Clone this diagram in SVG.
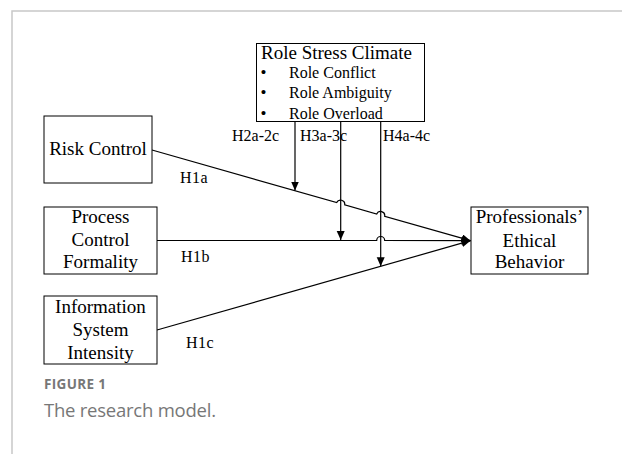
<svg xmlns="http://www.w3.org/2000/svg" width="622" height="454" viewBox="0 0 622 454">
<style>
.box{fill:#fff;stroke:#000;stroke-width:1}
.t{font-family:"Liberation Serif","Times New Roman",serif;font-size:19px;fill:#000}
.s{font-family:"Liberation Serif","Times New Roman",serif;font-size:16px;fill:#000}
.b{font-family:"Liberation Serif","Times New Roman",serif;font-size:17px;fill:#000}
.ln{fill:none;stroke:#000;stroke-width:1.2}
.cap{font-family:"Open Sans","Liberation Sans",sans-serif;fill:#777}
</style>
<defs>
<marker id="ah" markerUnits="userSpaceOnUse" markerWidth="10" markerHeight="10" refX="9" refY="4" orient="auto">
<path d="M0,0 L9,4 L0,8 z" fill="#000"/>
</marker>
</defs>
<rect width="622" height="454" fill="#fff"/>
<g id="frame">
<path d="M12,454 V11 H622" fill="none" stroke="#c8c8c8" stroke-width="1.5"/>
</g>
<g id="connectors">
<path class="ln" d="M152,150 L336.7,202.6 A4.2,4.2 0 0 1 344.7,204.9 L376.7,214 A4.2,4.2 0 0 1 384.7,216.3 L470.5,240.7" marker-end="url(#ah)"/>
<path class="ln" d="M157,240.5 L376.7,240.5 A4,4 0 0 1 384.7,240.5 L470.5,240.7" marker-end="url(#ah)"/>
<path class="ln" d="M157,330 L470.5,240.7" marker-end="url(#ah)"/>
<path class="ln" d="M295,122 V190.5" marker-end="url(#ah)"/>
<path class="ln" d="M340.7,122 V240" marker-end="url(#ah)"/>
<path class="ln" d="M380.7,122 V266.3" stroke="#808080" marker-end="url(#ah)"/>
</g>
<g id="role-stress">
<rect class="box" x="256.5" y="43.5" width="168" height="78"/>
<text class="t" x="261" y="58.5">Role Stress Climate</text>
<text class="b" x="260.5" y="78">•</text>
<text class="s" x="289" y="77.5">Role Conflict</text>
<text class="b" x="260.5" y="98">•</text>
<text class="s" x="289" y="97.5">Role Ambiguity</text>
<text class="b" x="260.5" y="119">•</text>
<text class="s" x="289" y="118.5">Role Overload</text>
</g>
<g id="risk-control">
<rect class="box" x="44" y="116" width="108" height="67"/>
<text class="t" x="98" y="155" text-anchor="middle">Risk Control</text>
</g>
<g id="process-control">
<rect class="box" x="44" y="207" width="113" height="67"/>
<text class="t" x="100.5" y="223" text-anchor="middle">Process</text>
<text class="t" x="100.5" y="245.5" text-anchor="middle">Control</text>
<text class="t" x="100.5" y="268" text-anchor="middle">Formality</text>
</g>
<g id="info-system">
<rect class="box" x="44" y="296" width="113" height="68"/>
<text class="t" x="100.5" y="313" text-anchor="middle">Information</text>
<text class="t" x="100.5" y="336" text-anchor="middle">System</text>
<text class="t" x="100.5" y="359" text-anchor="middle">Intensity</text>
</g>
<g id="ethical-behavior">
<rect class="box" x="471" y="207" width="117" height="67"/>
<text class="t" x="529.5" y="223" text-anchor="middle">Professionals’</text>
<text class="t" x="529.5" y="246.5" text-anchor="middle">Ethical</text>
<text class="t" x="529.5" y="268" text-anchor="middle">Behavior</text>
</g>
<g id="labels">
<text class="s" x="232" y="140.5">H2a-2c</text>
<text class="s" x="300" y="140.5">H3a-3c</text>
<text class="s" x="383" y="140.5">H4a-4c</text>
<text class="s" x="180" y="183" letter-spacing="0.5">H1a</text>
<text class="s" x="181" y="261.5" letter-spacing="0.5">H1b</text>
<text class="s" x="186" y="348" letter-spacing="0.5">H1c</text>
</g>
<g id="caption">
<text class="cap" x="44" y="389" font-size="13.5" font-weight="bold" textLength="62">FIGURE 1</text>
<text class="cap" x="44" y="416.5" font-size="18.5" fill="#808080" textLength="172">The research model.</text>
</g>
</svg>
